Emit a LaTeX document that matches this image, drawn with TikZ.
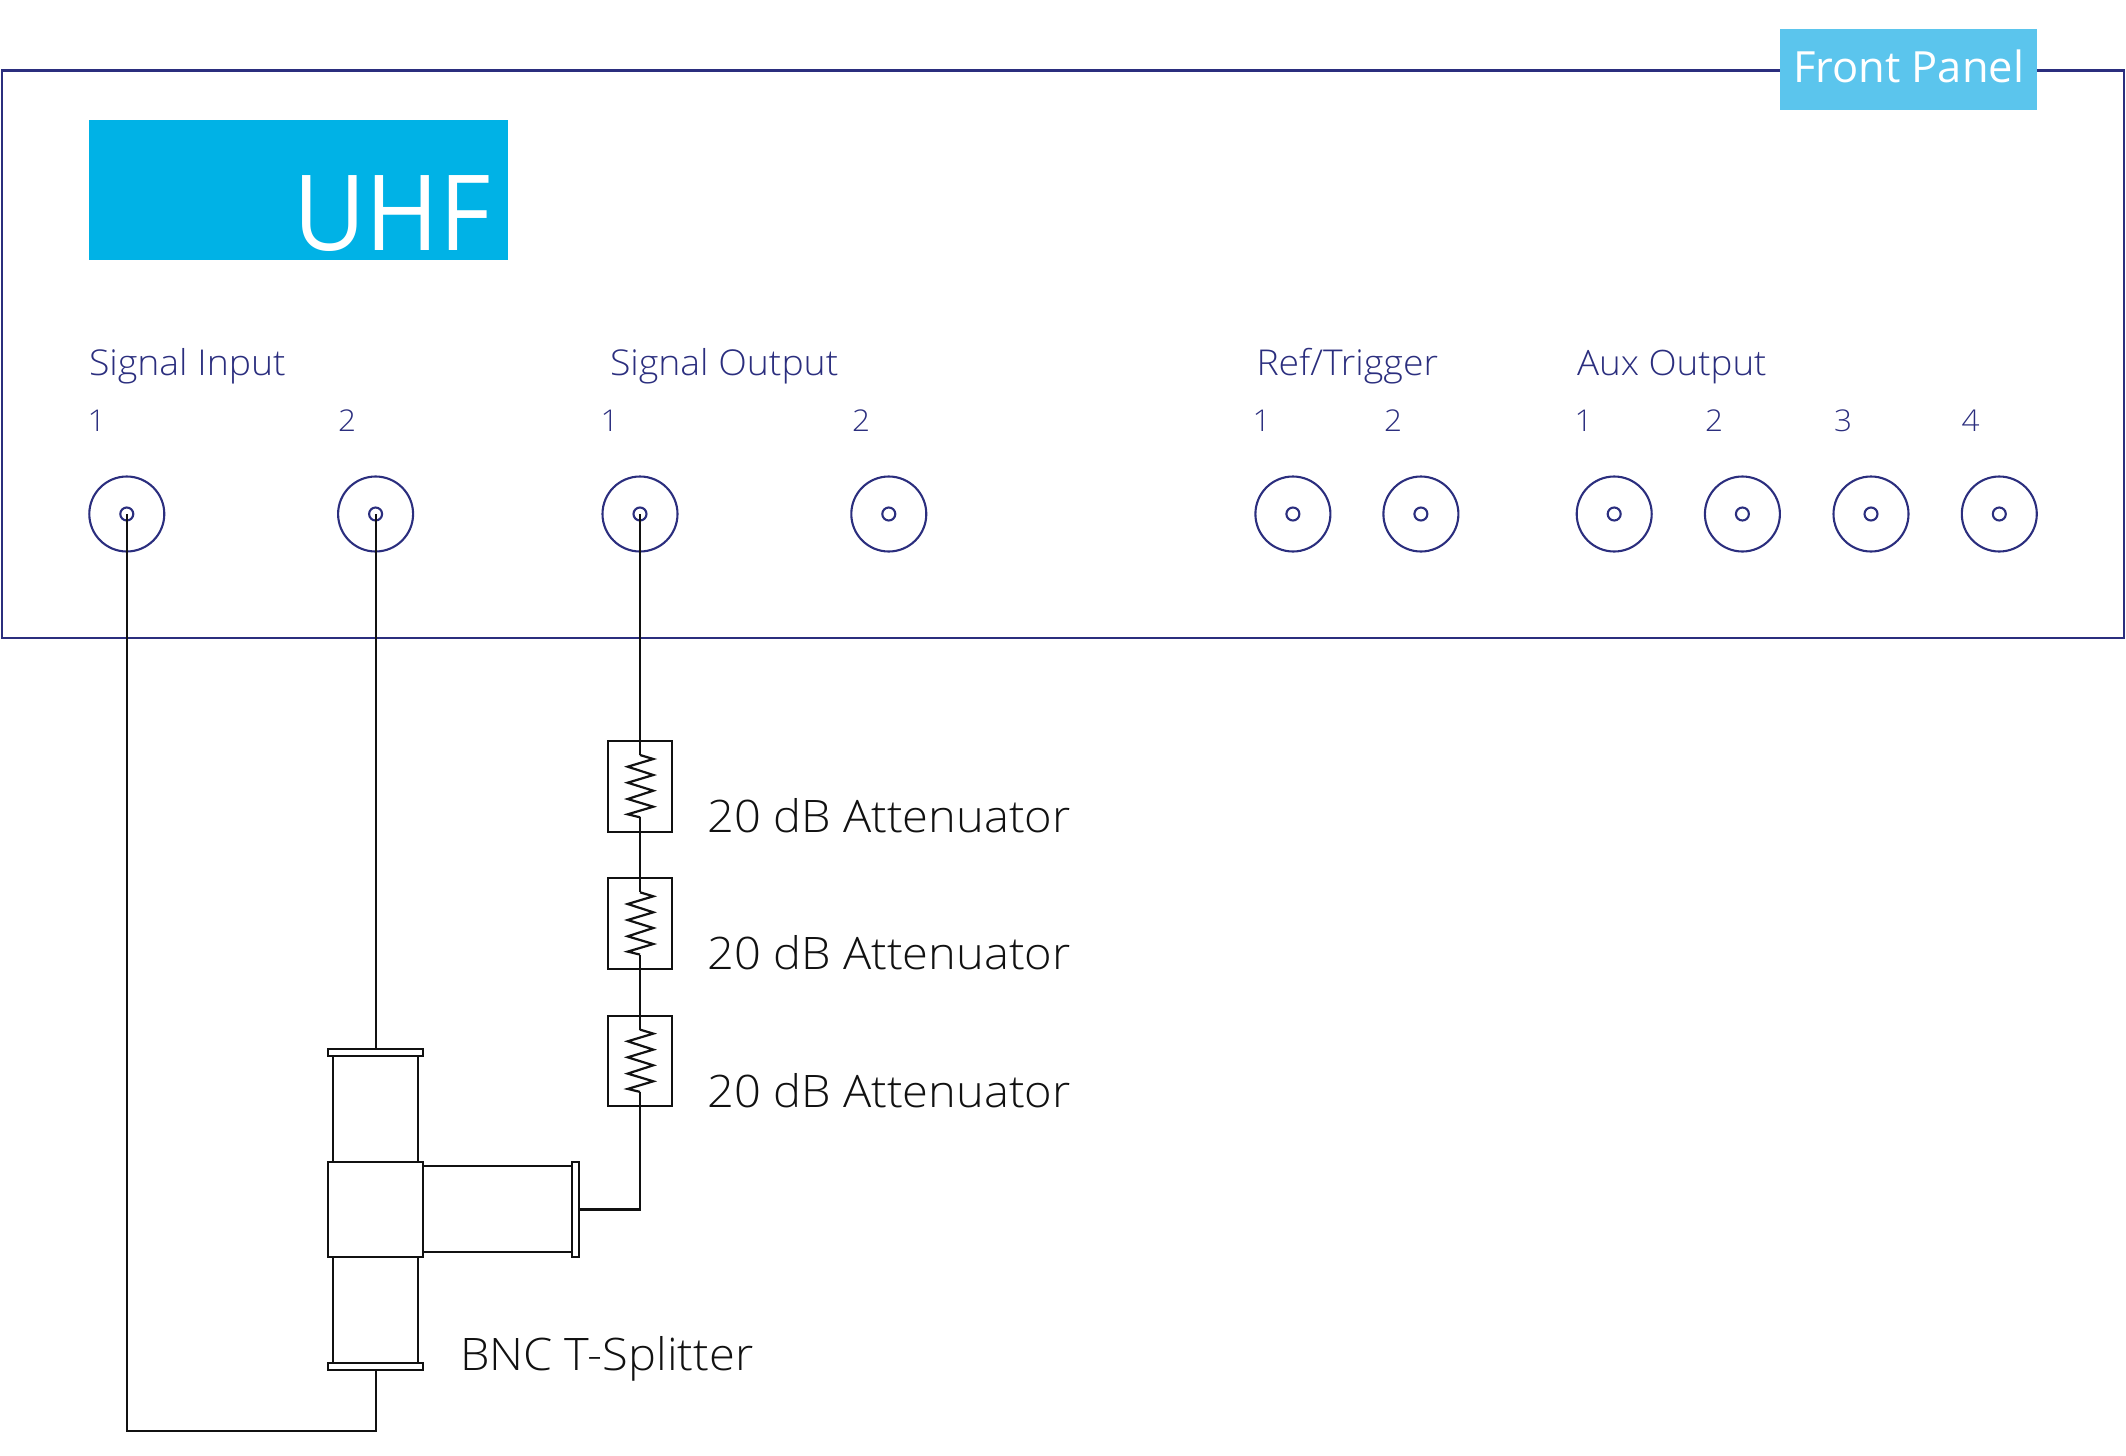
\documentclass[tikz,border=0pt]{standalone}
\usepackage{fontspec}
\setmainfont[FakeStretch=1.05]{Open Sans Light}
\newfontfamily\badgefont[FakeStretch=1.01]{Open Sans}
\newfontfamily\logofont[FakeStretch=0.95]{Open Sans}
\definecolor{navy}{HTML}{2B2E7E}
\definecolor{uhfblue}{HTML}{00B2E6}
\definecolor{badgeblue}{HTML}{5BC5ED}
\definecolor{ink}{HTML}{111111}
\newcommand{\fsz}[1]{\fontsize{#1}{#1}\selectfont}
\tikzset{
  box/.style args={#1/#2}{rectangle,inner sep=0pt,outer sep=0pt,minimum width=#1pt,minimum height=#2pt,anchor=north west},
  part/.style={draw=ink,line width=2pt,fill=white},
  txt/.style={anchor=base west,inner sep=0pt,outer sep=0pt},
  paneltxt/.style={txt,text=navy,font=\fsz{35.6}},
  numtxt/.style={txt,text=navy,font=\fsz{30}},
  blacktxt/.style={txt,text=ink,font=\fsz{44.8}},
  bnc/.style={circle,draw=navy,line width=2.1pt,minimum size=75pt,inner sep=0pt,outer sep=0pt},
  pin/.style={circle,draw=navy,line width=2.1pt,minimum size=13pt,inner sep=0pt,outer sep=0pt},
  wire/.style={draw=ink,line width=2.2pt},
  attbox/.style={box=64.6/90.7,draw=ink,line width=2pt}
}
\newcommand{\zigzag}[1]{%
  \draw[wire,line join=miter] (#1.north) ++(0,14) coordinate (#1top)
    -- ++(13.3,4) -- ++(-25.6,7.7) -- ++(25.6,8.3) -- ++(-25.6,7.7)
    -- ++(25.6,8) -- ++(-25.6,8.3) -- ++(25.6,7.7) -- ++(-25.6,7.6)
    -- ++(12.3,3) coordinate (#1bot);}
\begin{document}
\begin{tikzpicture}[x=1pt,y=-1pt]
\useasboundingbox (0,0) rectangle (2126,1456);
% panel
\node[box=2122/567.3,draw=navy,line width=2.5pt] (panel) at (2,70.5) {};
\node[box=257/81,fill=badgeblue] (badge) at (1780,29) {};
\node[txt,text=white,font=\badgefont\fsz{43}] (badgetext) at (1793,82) {Front Panel};
\node[box=419.2/140.2,fill=uhfblue] (logo) at (88.8,119.5) {};
\node[txt,text=white,font=\logofont\fsz{105}] (logotext) at (293,250) {UHF};
% labels
\node[paneltxt] (lsi) at (89,375.5) {Signal Input};
\node[paneltxt] (lso) at (610,375.5) {Signal Output};
\node[paneltxt] (lrt) at (1256.5,375.5) {Ref/Trigger};
\node[paneltxt,font=\fsz{35}] (lao) at (1577,375.5) {Aux Output};
\node[numtxt] (n1) at (87.5,431.5) {1};
\node[numtxt] (n2) at (338,431.5) {2};
\node[numtxt] (n3) at (600.5,431.5) {1};
\node[numtxt] (n4) at (852,431.5) {2};
\node[numtxt] (n5) at (1252.5,431.5) {1};
\node[numtxt] (n6) at (1384,431.5) {2};
\node[numtxt] (n7) at (1574.5,431.5) {1};
\node[numtxt] (n8) at (1705,431.5) {2};
\node[numtxt] (n9) at (1834,431.5) {3};
\node[numtxt] (n10) at (1961.5,431.5) {4};
% connectors
\foreach \nm/\cx in {a/126.8,b/375.6,c/640,d/888.8,e/1292.9,f/1420.9,g/1614.2,h/1742.4,i/1871,j/1999.3}{
  \node[bnc] (o\nm) at (\cx,514) {};
  \node[pin] (p\nm) at (\cx,514) {};
}
% attenuators
\node[attbox] (att1) at (607.7,741) {};
\node[attbox] (att2) at (607.7,878.3) {};
\node[attbox] (att3) at (607.7,1015.6) {};
\zigzag{att1}\zigzag{att2}\zigzag{att3}
\node[blacktxt] (lab1) at (707.5,832.5) {20 dB Attenuator};
\node[blacktxt] (lab2) at (707.5,969.8) {20 dB Attenuator};
\node[blacktxt] (lab3) at (707.5,1107.1) {20 dB Attenuator};
% T-splitter
\node[box=85.6/106.3,part] (tubeup) at (332.7,1056) {};
\node[box=85.6/106,part] (tubedown) at (332.7,1256.7) {};
\node[box=149/86,part] (tuberight) at (422.7,1166) {};
\node[box=94.4/94.4,part] (tcenter) at (328.3,1162.3) {};
\node[box=94.4/6.7,part] (flangeup) at (328.3,1049.3) {};
\node[box=94.4/7.3,part] (flangedown) at (328.3,1362.7) {};
\node[box=7/94.4,part] (flangeright) at (571.7,1162.3) {};
\node[blacktxt] (labt) at (460,1370) {BNC T-Splitter};
\coordinate (bend) at (375.6,1431.3);
% wires
\draw[wire] (pa.center) |- (bend) -- (bend |- flangedown.south);
\draw[wire] (pb.center) -- (pb.center |- flangeup.north);
\draw[wire] (pc.center) -- (att1top);
\draw[wire] (att1bot) -- (att2top);
\draw[wire] (att2bot) -- (att3top);
\draw[wire] (att3bot) |- (flangeright.east);
\end{tikzpicture}
\end{document}
